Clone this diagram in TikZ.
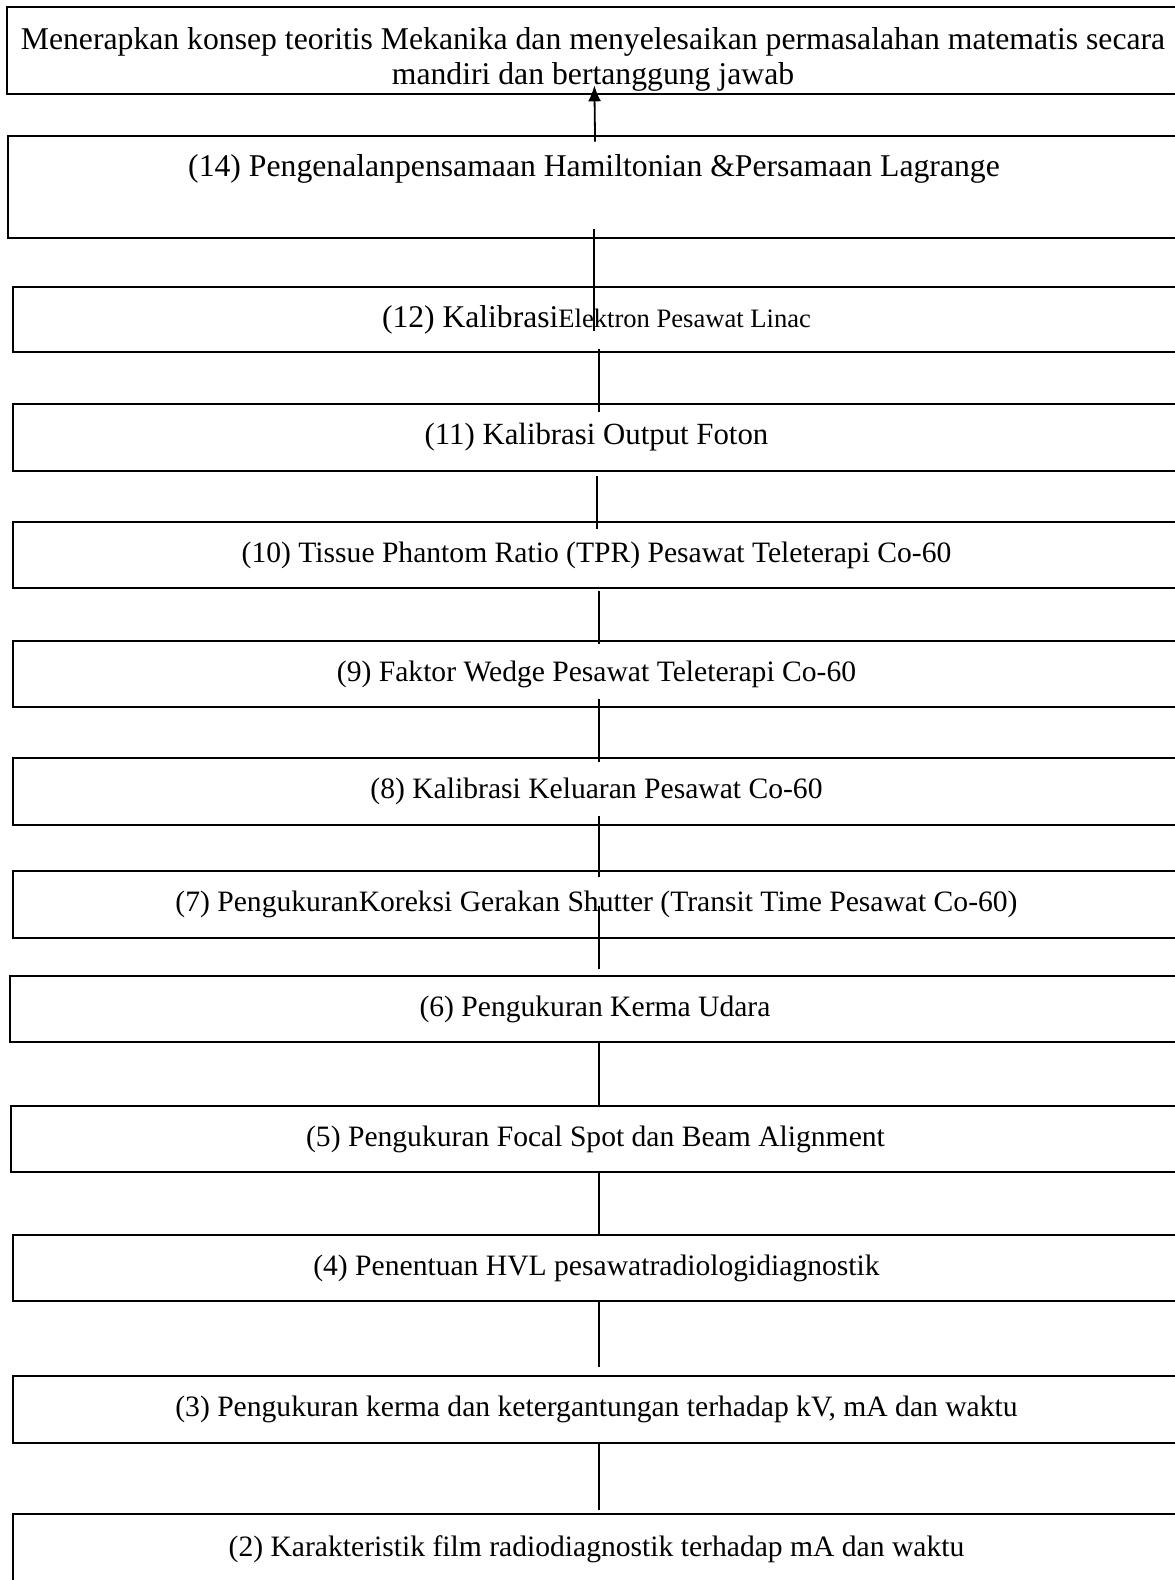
\documentclass[tikz,border=0pt]{standalone}
\usepackage{fontspec}
\setmainfont{Liberation Serif}
\usetikzlibrary{arrows.meta}

\begin{document}
\begin{tikzpicture}[x=1pt, y=-1pt, >={Latex[length=16pt,width=13pt]},
    box/.style={draw, line width=2.6pt, minimum width=1167pt, minimum height=66pt,
        inner sep=0pt, align=center, font=\fontsize{29.6}{35}\selectfont},
    big/.style={font=\fontsize{31.7}{35}\selectfont},
    link/.style={line width=1.8pt}]
    \useasboundingbox (0,0) rectangle (1175,1580);
    \clip (0,0) rectangle (1175,1580);
        \node[box, big, minimum width=1172pt, minimum height=87pt] (goal) at (593,50.5)
            {\rule{0pt}{40pt}Menerapkan konsep teoritis Mekanika dan menyelesaikan permasalahan matematis secara\\mandiri dan bertanggung jawab};
        \node[box, big, minimum width=1172pt, minimum height=102pt] (b14) at (594,187)
            {(14) Pengenalanpensamaan Hamiltonian \&Persamaan Lagrange\\[9pt]\mbox{}};
        \node[box, minimum height=65pt] (b12) at (596.5,319.5)
            {{\fontsize{31.6}{35}\selectfont(12) Kalibrasi}{\fontsize{26.6}{30}\selectfont Elektron Pesawat Linac}};
        \node[box, minimum height=67pt, font=\fontsize{30.8}{35}\selectfont] (b11) at (596.5,437.5) {(11) Kalibrasi Output Foton};
        \node[box] (b10) at (596.5,555) {(10) Tissue Phantom Ratio (TPR) Pesawat Teleterapi Co-60};
        \node[box] (b9) at (596.5,674) {(9) Faktor Wedge Pesawat Teleterapi Co-60};
        \node[box, minimum height=67pt] (b8) at (596.5,791.5) {(8) Kalibrasi Keluaran Pesawat Co-60};
        \node[box, minimum height=67pt] (b7) at (596.5,904.5) {(7) PengukuranKoreksi Gerakan Shutter (Transit Time Pesawat Co-60)};
        \node[box, minimum width=1170pt] (b6) at (595,1009) {(6) Pengukuran Kerma Udara};
        \node[box, minimum width=1169pt] (b5) at (595.5,1139) {(5) Pengukuran Focal Spot dan Beam Alignment};
        \node[box] (b4) at (596.5,1268) {(4) Penentuan HVL pesawatradiologidiagnostik};
        \node[box, minimum height=67pt] (b3) at (596.5,1409.5) {(3) Pengukuran kerma dan ketergantungan terhadap kV, mA dan waktu};
        \node[box, minimum height=70pt] (b2) at (596.5,1549) {(2) Karakteristik film radiodiagnostik terhadap mA dan waktu};
        \draw[link, ->, shorten <=-7pt, shorten >=-10pt] ([xshift=1pt]b14.north) -- ([xshift=1.5pt]goal.south);
        \draw[link, shorten <=-10pt, shorten >=-45pt] ([xshift=0pt]b14.south) -- ([xshift=-2.5pt]b12.north);
        \draw[link, shorten <=-4pt, shorten >=-9pt] ([xshift=2.5pt]b12.south) -- ([xshift=2.5pt]b11.north);
        \draw[link, shorten <=4pt, shorten >=-8pt] ([xshift=0.5pt]b11.south) -- ([xshift=0.5pt]b10.north);
        \draw[link, shorten <=2pt, shorten >=-4pt] ([xshift=2.5pt]b10.south) -- ([xshift=2.5pt]b9.north);
        \draw[link, shorten <=-9pt, shorten >=-5pt] ([xshift=2.5pt]b9.south) -- ([xshift=2.5pt]b8.north);
        \draw[link, shorten <=-10pt, shorten >=-7pt] ([xshift=2.5pt]b8.south) -- ([xshift=2.5pt]b7.north);
        \draw[link, shorten <=-33pt, shorten >=6pt] ([xshift=2.5pt]b7.south) -- ([xshift=4pt]b6.north);
        \draw[link, shorten >=-2pt] ([xshift=4pt]b6.south) -- ([xshift=3.5pt]b5.north);
        \draw[link, shorten >=-2pt] ([xshift=3.5pt]b5.south) -- ([xshift=2.5pt]b4.north);
        \draw[link, shorten >=8pt] ([xshift=2.5pt]b4.south) -- ([xshift=2.5pt]b3.north);
        \draw[link, shorten >=3pt] ([xshift=2.5pt]b3.south) -- ([xshift=2.5pt]b2.north);
\end{tikzpicture}
\end{document}
